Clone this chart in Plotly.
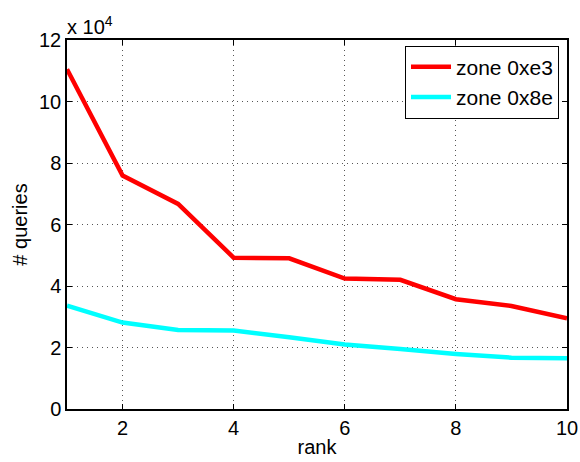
import plotly.graph_objects as go

rank = [1, 2, 3, 4, 5, 6, 7, 8, 9, 10]
zone_e3 = [110500, 75900, 66700, 49200, 49000, 42400, 42000, 35700, 33500, 29500]
zone_8e = [33600, 28100, 25700, 25500, 23300, 21000, 19500, 17900, 16700, 16500]
y_tickvals = [0, 20000, 40000, 60000, 80000, 100000, 120000]
y_ticktext = ["0", "2", "4", "6", "8", "10", "12"]
x_tickvals = [2, 4, 6, 8, 10]

font = "Liberation Sans, Arial, Helvetica, sans-serif"
fs = 20

fig = go.Figure()
fig.add_trace(go.Scatter(x=rank, y=zone_e3, mode="lines", name="zone 0xe3",
                         line=dict(color="#ff0000", width=4.5)))
fig.add_trace(go.Scatter(x=rank, y=zone_8e, mode="lines", name="zone 0x8e",
                         line=dict(color="#00ffff", width=4.5)))

axis_common = dict(showline=True, linecolor="black", linewidth=1.5, mirror="ticks",
                   ticks="inside", ticklen=5, tickcolor="black", automargin=False,
                   showgrid=True, gridcolor="#555555", griddash="1px,4px", gridwidth=1,
                   zeroline=False, tickfont=dict(size=fs, color="black", family=font))

fig.update_xaxes(range=[1, 10], tickvals=x_tickvals,
                 title=dict(text="rank", font=dict(size=fs, color="black", family=font), standoff=2),
                 **axis_common)
fig.update_yaxes(range=[0, 120000], tickvals=y_tickvals, ticktext=y_ticktext,
                 title=dict(text="# queries", font=dict(size=fs, color="black", family=font), standoff=6),
                 **axis_common)

fig.add_annotation(x=0, y=1, xref="paper", yref="paper", xanchor="left", yanchor="bottom",
                   text="x 10<sup>4</sup>", showarrow=False, yshift=0, xshift=-2,
                   font=dict(size=fs, color="black", family=font))

fig.update_layout(
    width=580, height=462,
    margin=dict(l=67, r=13, t=40, b=53),
    paper_bgcolor="white", plot_bgcolor="white",
    font=dict(family=font, size=fs, color="black"),
    legend=dict(x=0.984, y=0.985, xanchor="right", yanchor="top",
                bgcolor="white", bordercolor="black", borderwidth=1,
                font=dict(size=21, color="black", family=font),
                tracegroupgap=0, itemwidth=40),
    showlegend=True,
)

fig.write_html("out.html", config={"displayModeBar": False},
               post_script="document.body.style.margin='0';document.body.style.overflow='hidden';")
